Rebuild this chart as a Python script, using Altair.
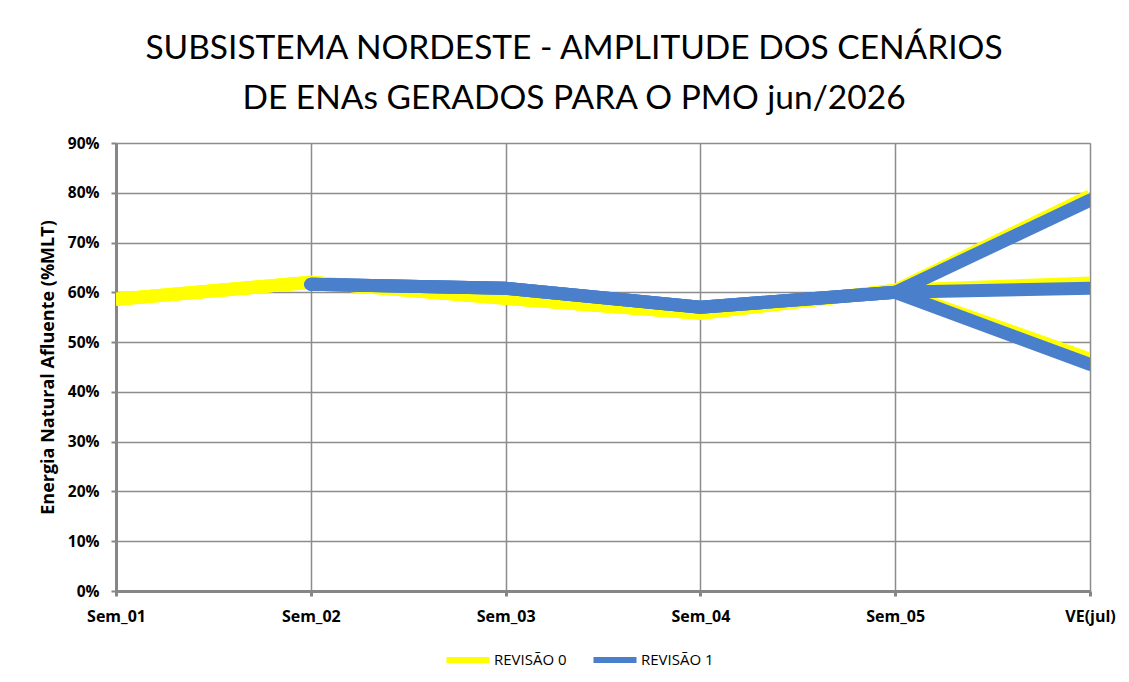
import altair as alt
import pandas as pd

categories = ["Sem_01", "Sem_02", "Sem_03", "Sem_04", "Sem_05", "VE(jul)"]
rev0_base = [58.6, 62.0, 58.8, 55.8, 60.4]
rev0_ve = [79.4, 61.9, 46.6]
rev1_base = [None, 61.6, 60.8, 57.0, 60.0]
rev1_ve = [78.5, 60.8, 45.5]
series_names = ["REVISÃO 0", "REVISÃO 1"]
colors = ["#FFFF00", "#4A7FCC"]
y_ticks = [0, 10, 20, 30, 40, 50, 60, 70, 80, 90]

rows = []
for name, base, ve in [(series_names[0], rev0_base, rev0_ve), (series_names[1], rev1_base, rev1_ve)]:
    for k, v_end in enumerate(ve):
        vals = base + [v_end]
        for cat, v in zip(categories, vals):
            if v is not None:
                rows.append({"serie": name, "cenario": f"{name}-{k}", "semana": cat, "valor": v})
df = pd.DataFrame(rows)

x_enc = alt.X("semana:N", sort=categories,
              scale=alt.Scale(type="point", padding=0, domain=categories),
              axis=alt.Axis(title=None, labelAngle=0, labelFontWeight="bold", labelFontSize=16,
                            labelFont="Open Sans", labelColor="#000000", labelPadding=12,
                            grid=True, gridColor="#8C8C8C", gridWidth=1.5,
                            domainColor="#868686", domainWidth=3,
                            tickColor="#868686", tickWidth=3, tickSize=5))
y_enc = alt.Y("valor:Q", scale=alt.Scale(domain=[0, 90], nice=False),
              axis=alt.Axis(values=y_ticks, labelExpr="datum.value + '%'",
                            title="Energia Natural Afluente (%MLT)", titleFontSize=18,
                            titleFont="Open Sans", titleFontWeight="bold", titleColor="#000000",
                            titlePadding=10,
                            labelFontWeight="bold", labelFontSize=15.5, labelFont="Open Sans",
                            labelColor="#000000", labelPadding=12,
                            grid=True, gridColor="#8C8C8C", gridWidth=1.5,
                            domainColor="#868686", domainWidth=3,
                            tickColor="#868686", tickWidth=2, tickSize=5))
color_enc = alt.Color("serie:N", scale=alt.Scale(domain=series_names, range=colors),
                      legend=alt.Legend(title=None, orient="none", legendX=327, legendY=492,
                                        direction="horizontal", symbolType="stroke",
                                        symbolStrokeWidth=6, symbolSize=1850,
                                        labelFont="Open Sans", labelFontSize=15,
                                        labelColor="#000000", columnPadding=14, labelOffset=1))

base = alt.Chart(df)
l0 = base.transform_filter(alt.datum.serie == series_names[0]).mark_line(
    strokeWidth=13, strokeCap="butt", strokeJoin="miter", clip=True).encode(
    x=x_enc, y=y_enc, color=color_enc, detail="cenario:N")
l1 = base.transform_filter(alt.datum.serie == series_names[1]).mark_line(
    strokeWidth=13, strokeCap="round", strokeJoin="miter", clip=True).encode(
    x=x_enc, y=y_enc, color=color_enc, detail="cenario:N")

chart = alt.layer(l0, l1).properties(
    width=974, height=448,
    title=alt.TitleParams(["SUBSISTEMA NORDESTE - AMPLITUDE DOS CENÁRIOS",
                           "DE ENAs GERADOS PARA O PMO jun/2026"],
                          font="Lato", fontSize=33.5, fontWeight="normal", color="#000000",
                          anchor="middle", dx=-29, offset=20, lineHeight=50),
    autosize=alt.AutoSizeParams(type="none"),
    padding={"left": 108, "top": 135, "right": 31, "bottom": 95},
).configure_view(stroke=None).configure(background="#FFFFFF")

chart.save("out.html", embed_options={"renderer": "svg", "actions": False})
